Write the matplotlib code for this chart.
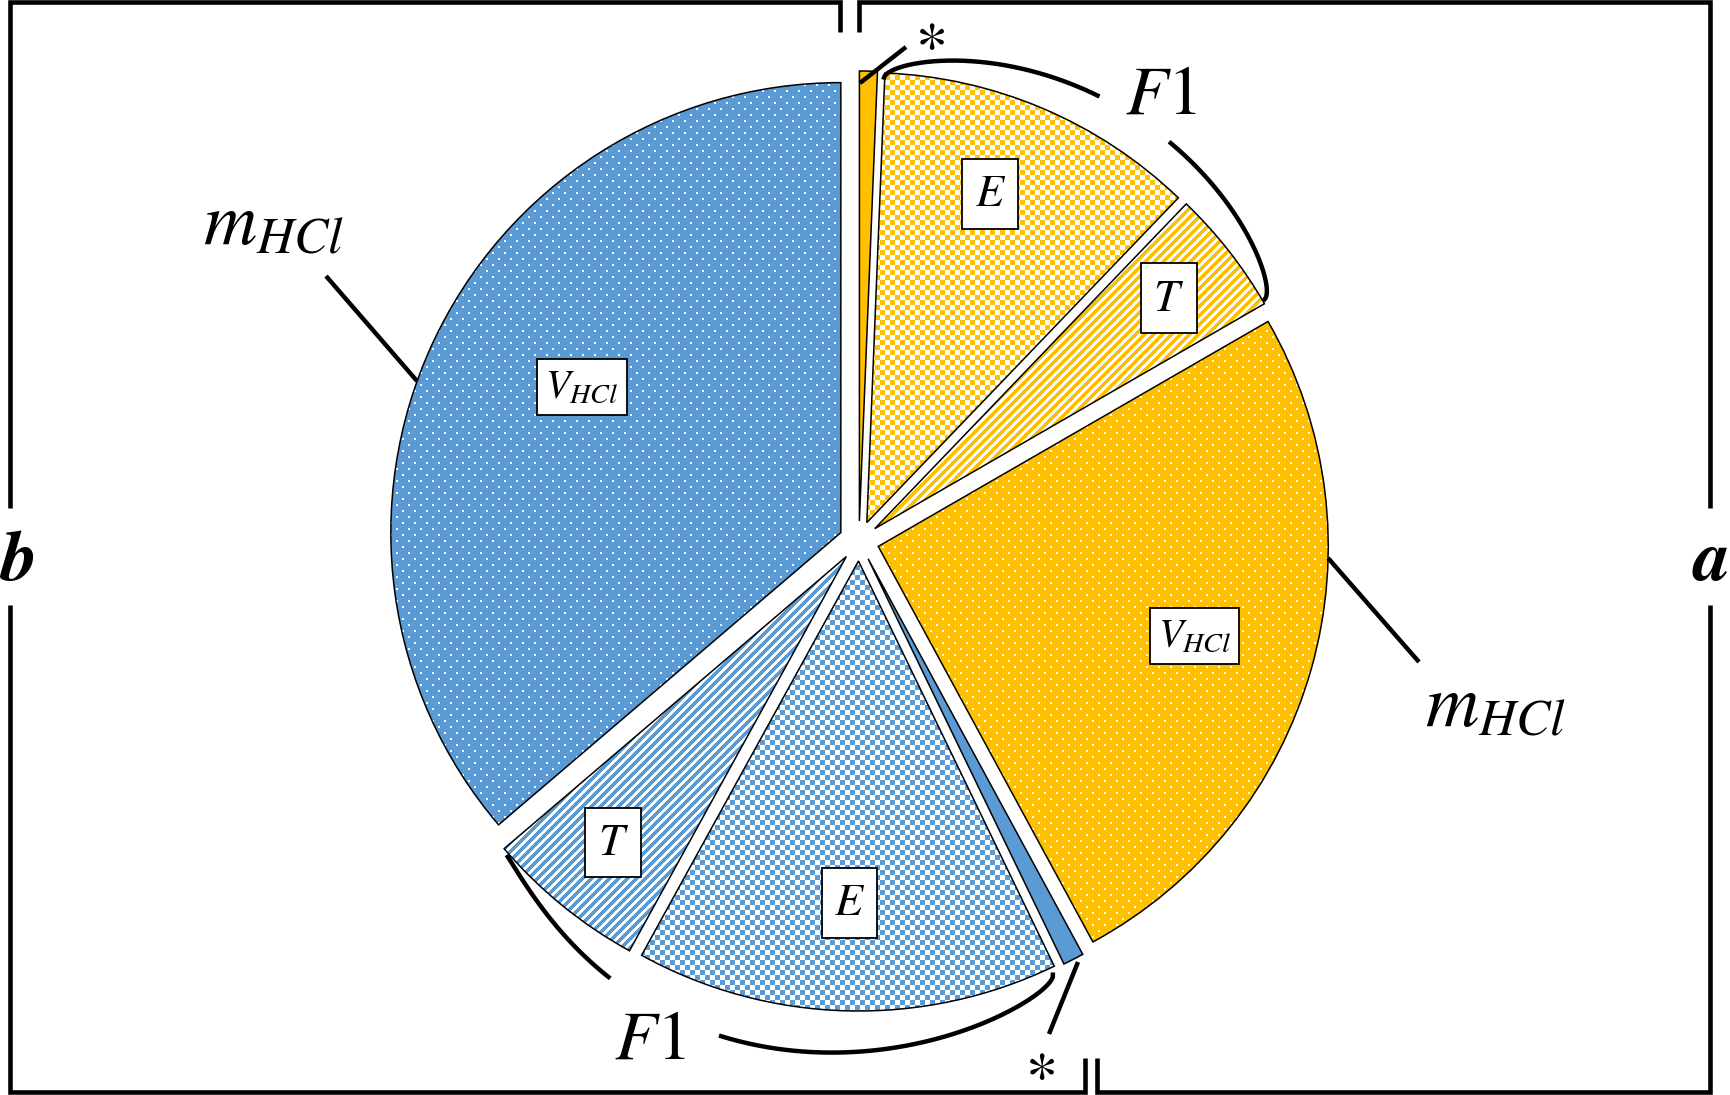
import numpy as np
import matplotlib
matplotlib.use('Agg')
import matplotlib.pyplot as plt
from matplotlib.colors import to_rgb

plt.rcParams['mathtext.fontset'] = 'stix'

# shares (%) clockwise from 12 o'clock: group a (gold) then group b (blue)
slice_names = ['*', 'E', 'T', 'V_HCl', '*', 'E', 'T', 'V_HCl']
groups = ['a', 'a', 'a', 'a', 'b', 'b', 'b', 'b']
shares = [0.64, 11.53, 4.50, 25.42, 0.75, 15.17, 5.75, 36.25]
box_labels = ['', '$E$', '$T$', '$V_{HCl}$', '', '$E$', '$T$', '$V_{HCl}$']
patterns = ['solid', 'checker', 'stripes', 'dots', 'solid', 'checker', 'stripes', 'dots']
group_colors = {'a': '#FFC000', 'b': '#5B9BD5'}

W, H = 1731, 1095
fig = plt.figure(figsize=(W / 100, H / 100), dpi=100)
ax = fig.add_axes([0, 0, 1, 1])

# pie geometry in pixel units (y up)
cx, cy, R, gap = 859, H - 541, 450, 20

wedges, _ = ax.pie(shares, colors=[group_colors[g] for g in groups],
                   startangle=90, counterclock=False, radius=R, center=(cx, cy),
                   wedgeprops=dict(edgecolor='black', linewidth=1.1))

# explode every wedge by a fixed pixel gap
for w in wedges:
    mid = np.deg2rad((w.theta1 + w.theta2) / 2)
    w.set_center((cx + gap * np.cos(mid), cy + gap * np.sin(mid)))

# fill textures like the office patterns
yy, xx = np.mgrid[0:H, 0:W]


def texture(kind, color):
    if kind == 'dots':
        white = (yy % 6 < 2) & ((xx + (yy // 6 % 2) * 6) % 12 < 2)
    elif kind == 'checker':
        white = (xx // 5 + yy // 5) % 2 == 1
    else:
        white = (xx + yy) % 9 >= 5
    img = np.empty((H, W, 3), np.uint8)
    img[:] = np.round(np.array(to_rgb(color)) * 255).astype(np.uint8)
    img[white] = 255
    return img


for w, pat, g in zip(wedges, patterns, groups):
    if pat == 'solid':
        continue
    im = ax.imshow(texture(pat, group_colors[g]), extent=(0, W, 0, H),
                   interpolation='nearest', zorder=0.9)
    im.set_clip_path(w)
    w.set_facecolor('none')

# boxed labels inside the wedges
label_frac = [0, 0.78, 0.83, 0.73, 0, 0.76, 0.82, 0.66]
label_turn = [0, 2.5, 0, 0, 0, 0, 0, -4.6]   # degrees, ccw
for w, lab, f, t in zip(wedges, box_labels, label_frac, label_turn):
    if not lab:
        continue
    mid = np.deg2rad((w.theta1 + w.theta2) / 2 + t)
    x = w.center[0] + f * R * np.cos(mid)
    y = w.center[1] + f * R * np.sin(mid)
    big = lab != '$V_{HCl}$'
    ax.text(x, y, lab, fontsize=33 if big else 29, ha='center', va='center', zorder=5,
            bbox=dict(boxstyle='square,pad=%s' % (0.27 if big else 0.2),
                      fc='white', ec='black', lw=1.3))


def bracket(c1, c2, r0, r1, h, gap_c, p0=0.5, p1=0.5):
    c = np.linspace(c1, c2, 300)
    u = (c - c1) / (c2 - c1)
    r = r0 + (r1 - r0) * u + h * np.sin(np.pi * u) ** (p0 + (p1 - p0) * u)
    th = np.deg2rad(90 - c)
    x = cx + r * np.cos(th)
    y = cy + r * np.sin(th)
    for part in (c <= gap_c[0], c >= gap_c[1]):
        ax.plot(x[part], y[part], color='black', lw=3.2, solid_capstyle='butt')


bracket(3, 59.3, 462, 470, 40, (28.5, 37.7))
bracket(155.8, 228.3, 473, 472, 42, (196, 209.5), 0.5, 1.1)


def line(pts, lw=3.3):
    xs, ys = zip(*pts)
    ax.plot(xs, [H - v for v in ys], color='black', lw=lw,
            solid_joinstyle='miter', solid_capstyle='butt')


# frame brackets for b (left) and a (right)
line([(840, 32), (840, 2), (10, 2), (10, 508)])
line([(10, 605), (10, 1092), (1085, 1092), (1085, 1058)])
line([(859, 32), (859, 2), (1710, 2), (1710, 508)])
line([(1710, 605), (1710, 1092), (1097, 1092), (1097, 1058)])

# leader lines
line([(326, 276), (417, 381)], 3.2)
line([(1328, 558), (1419, 662)], 3.2)
line([(860, 83), (906, 47)], 3.2)
line([(1078, 962), (1049, 1034)], 3.2)

ax.text(274, H - 224, '$m_{HCl}$', fontsize=53, ha='center', va='center')
ax.text(1496, H - 706, '$m_{HCl}$', fontsize=53, ha='center', va='center')
ax.text(1161, H - 94, '$F1$', fontsize=50, ha='center', va='center')
ax.text(650, H - 1039, '$F1$', fontsize=50, ha='center', va='center')
ax.text(930, H - 33, r'$\ast$', fontsize=44, ha='center', va='center')
ax.text(1040, H - 1063, r'$\ast$', fontsize=44, ha='center', va='center')
ax.text(18, H - 580, 'b', fontsize=52, family='STIXGeneral', weight='bold',
        style='italic', ha='center', va='baseline')
ax.text(1712, H - 580, 'a', fontsize=52, family='STIXGeneral', weight='bold',
        style='italic', ha='center', va='baseline')

ax.set_xlim(0, W)
ax.set_ylim(0, H)
ax.set_aspect('auto')
ax.axis('off')

fig.savefig('out.png', dpi=100)
